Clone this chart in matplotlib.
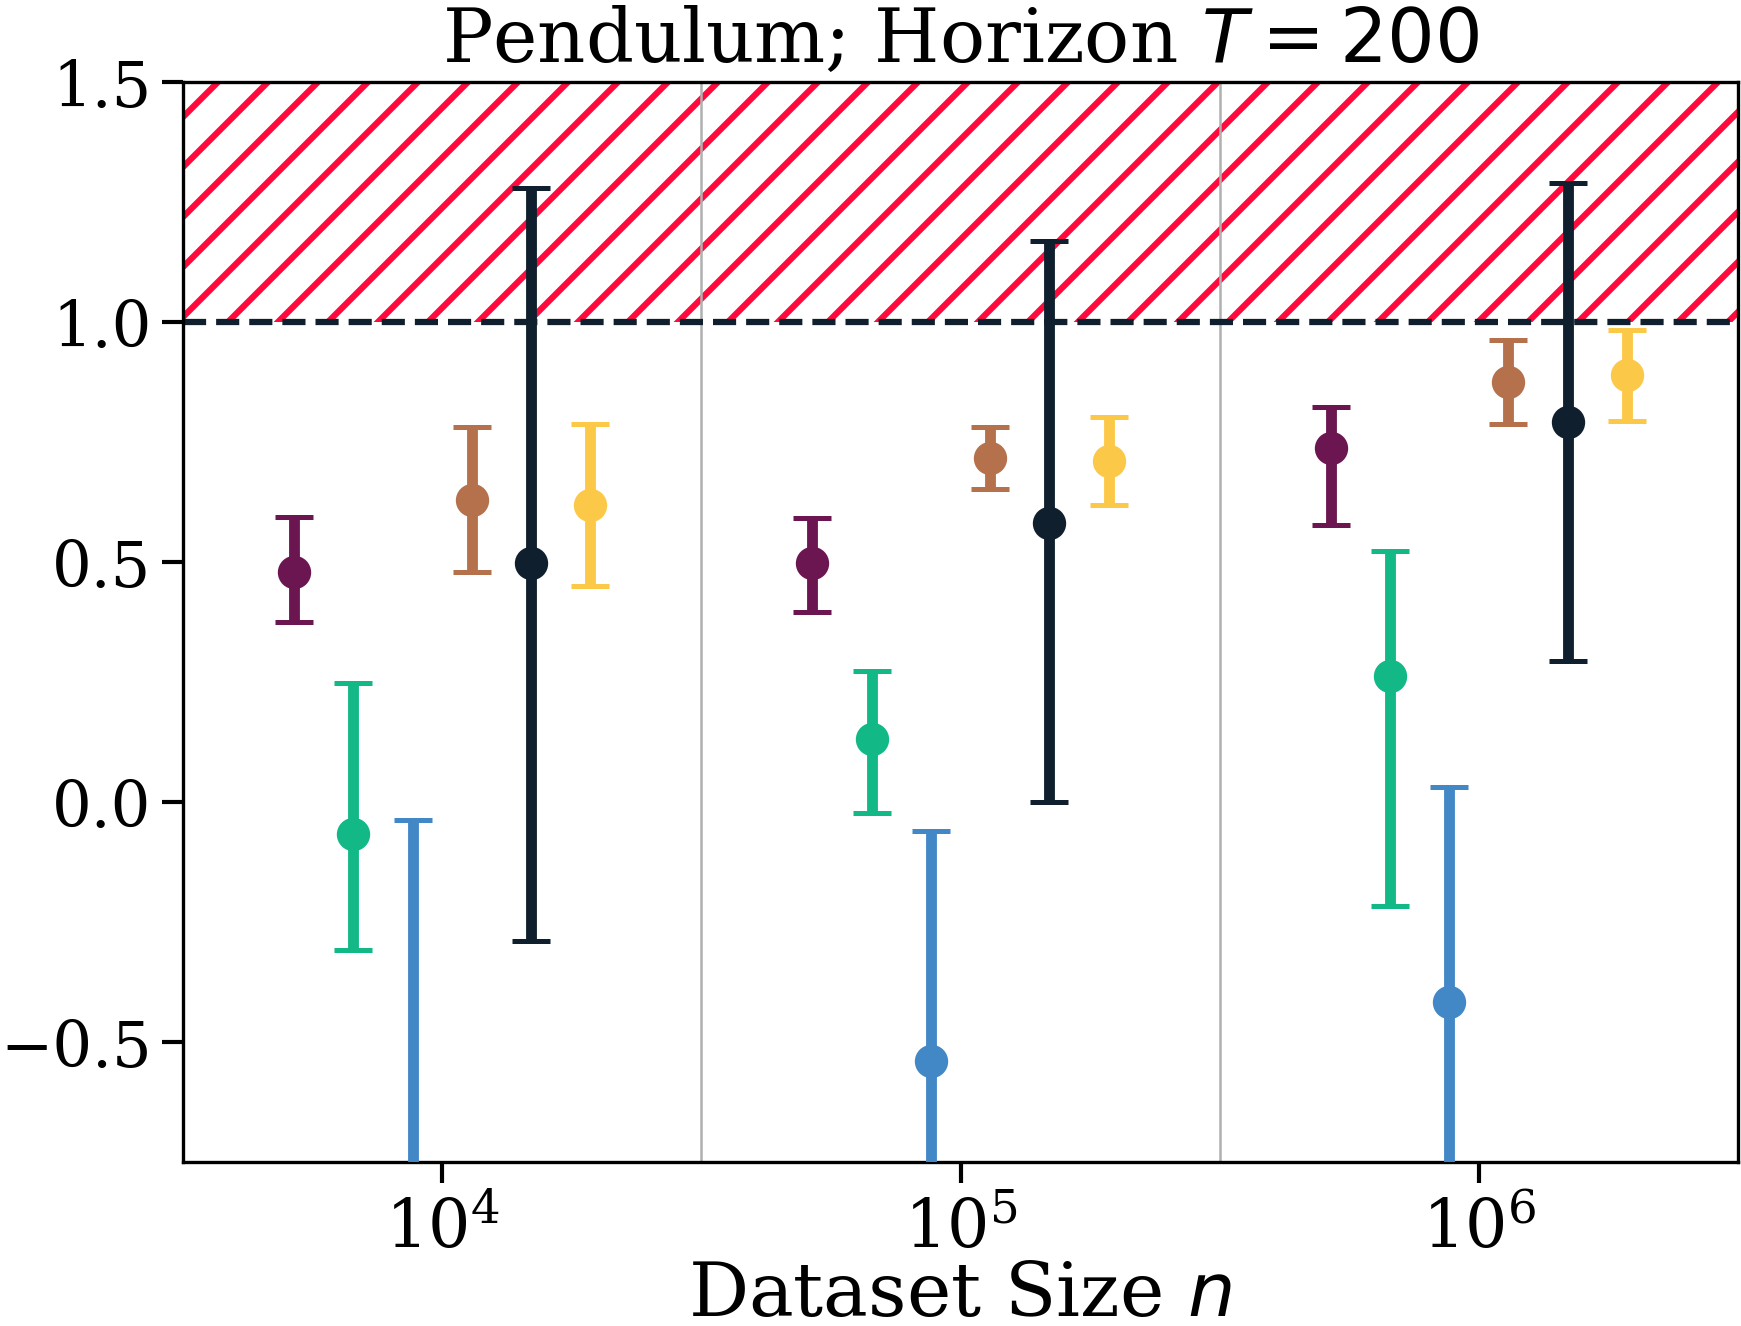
import matplotlib
matplotlib.use("Agg")
import matplotlib.pyplot as plt
import numpy as np

plt.rcParams['font.family'] = 'serif'
plt.rcParams['hatch.linewidth'] = 1.5

sizes = np.array([1e4, 1e5, 1e6])

# mean return per dataset size, and lower / upper ends of the error bars
purple_mean = [0.480, 0.497, 0.737]
purple_lo = [0.374, 0.395, 0.577]
purple_hi = [0.594, 0.591, 0.822]

green_mean = [-0.067, 0.132, 0.263]
green_lo = [-0.309, -0.023, -0.217]
green_hi = [0.247, 0.273, 0.522]

blue_mean = [-0.85, -0.540, -0.416]
blue_lo = [-1.66, -1.02, -0.864]
blue_hi = [-0.037, -0.060, 0.032]

brown_mean = [0.630, 0.716, 0.875]
brown_lo = [0.480, 0.651, 0.788]
brown_hi = [0.781, 0.781, 0.963]

dark_mean = [0.497, 0.582, 0.792]
dark_lo = [-0.289, 0.0, 0.293]
dark_hi = [1.279, 1.169, 1.289]

yellow_mean = [0.619, 0.711, 0.889]
yellow_lo = [0.450, 0.619, 0.794]
yellow_hi = [0.788, 0.801, 0.984]

series = [
    (purple_mean, purple_lo, purple_hi, "#6b1650"),
    (green_mean, green_lo, green_hi, "#12b886"),
    (blue_mean, blue_lo, blue_hi, "#4287c6"),
    (brown_mean, brown_lo, brown_hi, "#b5714c"),
    (dark_mean, dark_lo, dark_hi, "#0f1f2d"),
    (yellow_mean, yellow_lo, yellow_hi, "#fcc847"),
]

fig = plt.figure(figsize=(1741 / 300, 1327 / 300), dpi=300)
ax = fig.add_axes([0.1051, 0.1236, 0.8932, 0.8139])

# unreachable region above the optimal return
ax.axhspan(1.0, 1.5, facecolor="none", edgecolor="#ff0a3c", hatch="//", linewidth=0, zorder=0)
ax.axhline(1.0, color="#0f1f2d", ls="--", lw=1.5, zorder=1)

for edge in [10 ** 4.5, 10 ** 5.5]:
    ax.axvline(edge, color="#b0b0b0", lw=0.6, zorder=0)

offsets = np.linspace(-0.4, 0.4, 8)[1:-1]
for (mean, lo, hi, col), off in zip(series, offsets):
    mean = np.array(mean)
    yerr = [mean - np.array(lo), np.array(hi) - mean]
    ax.errorbar(sizes * 10 ** off, mean, yerr=yerr, fmt="o", color=col,
                ms=7, elinewidth=2.6, capsize=4.5, capthick=1.2, zorder=3)

ax.set_xscale("log")
ax.set_xlim(10 ** 3.5, 10 ** 6.5)
ax.set_ylim(-0.75, 1.5)
ax.set_yticks([-0.5, 0.0, 0.5, 1.0, 1.5])
ax.minorticks_off()
ax.tick_params(labelsize=16, length=5, width=1, pad=3)
ax.tick_params(axis="y", labelsize=15, pad=2.5)

ax.set_title("Pendulum; Horizon $T = 200$", fontsize=18, pad=5)
ax.set_xlabel("Dataset Size $n$", fontsize=18, labelpad=-0.5)
ax.set_ylabel("Return", fontsize=18, labelpad=0)

fig.savefig("out.png", dpi=300)
